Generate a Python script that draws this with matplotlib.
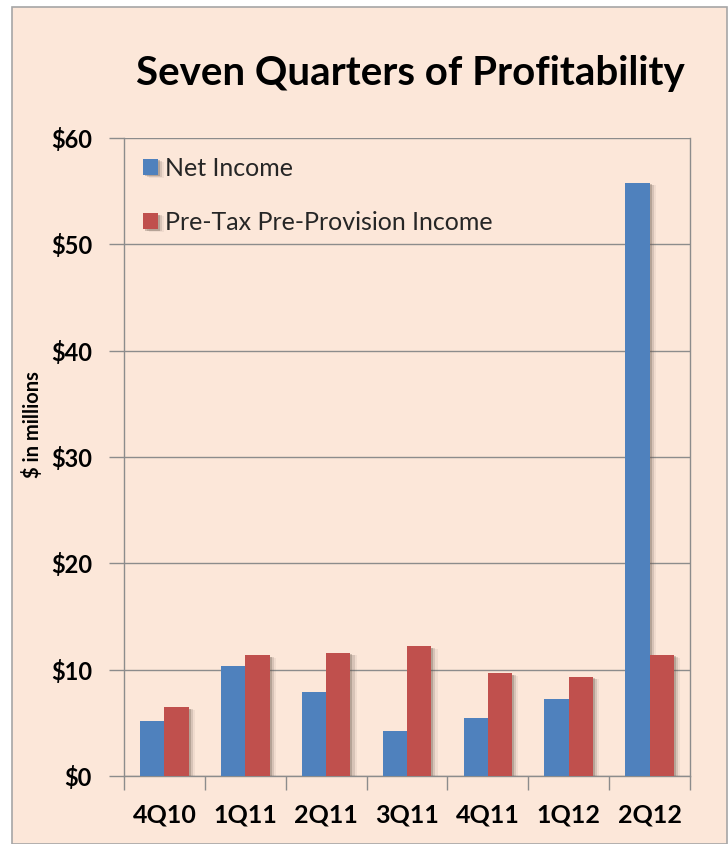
import matplotlib
matplotlib.use("Agg")
import matplotlib.pyplot as plt
import matplotlib.patheffects as pe
from matplotlib.patches import Rectangle
import numpy as np

quarters = ["4Q10", "1Q11", "2Q11", "3Q11", "4Q11", "1Q12", "2Q12"]
net_income = [5.2, 10.35, 7.9, 4.2, 5.5, 7.2, 55.8]
pre_tax_pre_provision = [6.45, 11.35, 11.6, 12.2, 9.65, 9.35, 11.4]
y_ticks = [0, 10, 20, 30, 40, 50, 60]
y_ticklabels = ["$0", "$10", "$20", "$30", "$40", "$50", "$60"]

title = "Seven Quarters of Profitability"
ylabel = "$ in millions"
legend_labels = ["Net Income", "Pre-Tax Pre-Provision Income"]

BG = "#FCE7D9"
BLUE = "#4F81BD"
RED = "#C0504D"
GRID = "#8C8C8C"
FONT = "Lato"

W, H = 728, 844
fig = plt.figure(figsize=(W / 100, H / 100), dpi=100, facecolor="white")

# outer chart frame
frame = Rectangle((12 / W, 0), (727 - 12) / W, (H - 7) / H, transform=fig.transFigure,
                  facecolor=BG, edgecolor="#A6A6A6", linewidth=1.2, zorder=-5)
fig.patches.append(frame)

ax = fig.add_axes([124 / W, (H - 776) / H, (690 - 124) / W, (776 - 138) / H])
ax.set_zorder(1)
ax.patch.set_visible(False)

x = np.arange(len(quarters))
bw = 0.3
shadow = [pe.SimplePatchShadow(offset=(1.5, -1.0), shadow_rgbFace="#6a5a50", alpha=0.3),
          pe.SimplePatchShadow(offset=(3.0, -1.5), shadow_rgbFace="#6a5a50", alpha=0.18),
          pe.SimplePatchShadow(offset=(4.5, -2.0), shadow_rgbFace="#6a5a50", alpha=0.08),
          pe.Normal()]
b1 = ax.bar(x - bw / 2, net_income, bw, color=BLUE, zorder=3, label=legend_labels[0])
for p in b1:
    p.set_path_effects(shadow)
b2 = ax.bar(x + bw / 2, pre_tax_pre_provision, bw, color=RED, zorder=4, label=legend_labels[1])
for p in b2:
    p.set_path_effects(shadow)

ax.set_xlim(-0.5, len(quarters) - 0.5)
ax.set_ylim(0, 60)
ax.set_yticks(y_ticks)
ax.set_yticklabels(y_ticklabels, fontsize=17, fontweight="bold", family=FONT)
ax.yaxis.grid(True, color=GRID, linewidth=1.0, zorder=1)
ax.set_axisbelow(True)

ax.set_xticks(x)
ax.set_xticklabels(quarters, fontsize=18, fontweight="bold", family=FONT)
ax.tick_params(axis="x", length=0, pad=20)
ax.set_xticks(np.arange(-0.5, len(quarters) + 0.5, 1.0), minor=True)
ax.tick_params(axis="x", which="minor", length=10, color=GRID, width=1.0)
ax.tick_params(axis="y", length=11, color=GRID, width=1.0, pad=12)

for s in ["left", "bottom", "right"]:
    ax.spines[s].set_color(GRID)
    ax.spines[s].set_linewidth(1.0)
ax.spines["top"].set_visible(False)

leg = ax.legend(loc="upper left", bbox_to_anchor=(0.0, 1.0), frameon=False,
                prop={"family": FONT, "size": 18}, labelspacing=1.25,
                handlelength=0.6, handleheight=0.6, handletextpad=0.3,
                borderaxespad=0.35)
for t in leg.get_texts():
    t.set_color("#262626")

fig.text(410 / W, 1 - 74 / H, title, ha="center", va="center",
         fontsize=29, fontweight="bold", family=FONT)
fig.text(33 / W, 1 - 425 / H, ylabel, ha="center", va="center", rotation=90,
         fontsize=14.5, family=FONT, fontweight="bold")

fig.savefig("out.png", dpi=100, facecolor="white")
